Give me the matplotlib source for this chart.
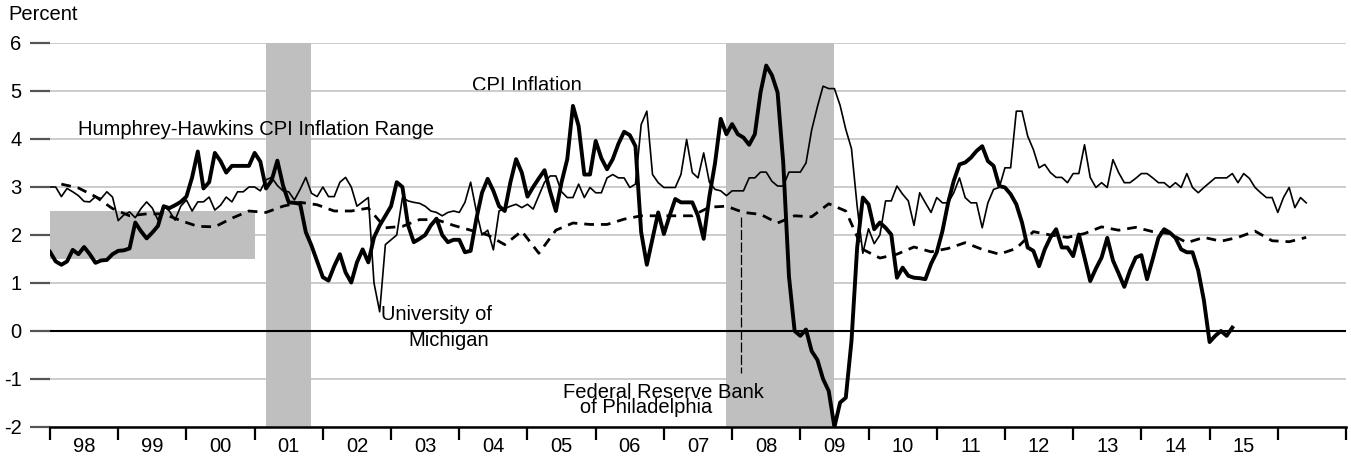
import numpy as np
import matplotlib

matplotlib.use("Agg")
import matplotlib.pyplot as plt
from matplotlib.ticker import FixedLocator, NullFormatter, FixedFormatter

plt.rcParams["font.family"] = ["Liberation Sans", "DejaVu Sans"]
plt.rcParams["axes.unicode_minus"] = False

# CPI inflation, monthly, Jan 1998 - May 2015
cpi = [
    1.65, 1.45, 1.38, 1.45, 1.69, 1.60, 1.75, 1.60, 1.42, 1.47, 1.48, 1.60,
    1.67, 1.68, 1.72, 2.26, 2.08, 1.93, 2.05, 2.19, 2.60, 2.56, 2.62, 2.69,
    2.80, 3.20, 3.74, 2.97, 3.10, 3.71, 3.54, 3.30, 3.44, 3.44, 3.44, 3.44,
    3.71, 3.53, 2.97, 3.14, 3.55, 3.03, 2.68, 2.67, 2.65, 2.06, 1.78, 1.45,
    1.12, 1.05, 1.35, 1.60, 1.22, 1.01, 1.43, 1.70, 1.43, 1.95, 2.20, 2.40,
    2.60, 3.10, 3.00, 2.20, 1.85, 1.92, 2.00, 2.20, 2.34, 2.00, 1.85, 1.90,
    1.90, 1.64, 1.67, 2.33, 2.88, 3.17, 2.92, 2.60, 2.50, 3.10, 3.58, 3.30,
    2.80, 3.00, 3.18, 3.35, 2.90, 2.50, 3.10, 3.58, 4.69, 4.27, 3.26, 3.26,
    3.96, 3.60, 3.37, 3.58, 3.90, 4.15, 4.08, 3.85, 2.06, 1.38, 1.92, 2.47,
    2.02, 2.40, 2.75, 2.68, 2.68, 2.68, 2.40, 1.92, 2.80, 3.50, 4.42, 4.10,
    4.31, 4.10, 4.03, 3.88, 4.10, 4.97, 5.53, 5.33, 4.97, 3.50, 1.14, 0.00,
    -0.10, 0.03, -0.42, -0.60, -1.00, -1.25, -2.00, -1.49, -1.39, -0.21, 1.74, 2.78,
    2.64, 2.12, 2.26, 2.15, 2.01, 1.11, 1.32, 1.15, 1.11, 1.10, 1.08, 1.40,
    1.64, 2.08, 2.67, 3.13, 3.47, 3.51, 3.61, 3.75, 3.85, 3.54, 3.44, 3.02,
    2.99, 2.85, 2.64, 2.26, 1.74, 1.67, 1.35, 1.70, 1.95, 2.12, 1.74, 1.74,
    1.56, 2.01, 1.53, 1.04, 1.30, 1.53, 1.94, 1.47, 1.20, 0.92, 1.26, 1.53,
    1.58, 1.08, 1.50, 1.94, 2.12, 2.05, 1.94, 1.70, 1.64, 1.64, 1.26, 0.64,
    -0.23, -0.10, 0.00, -0.10, 0.07,
]

# University of Michigan expectations, monthly, Jan 1998 - Jun 2016
michigan = [
    3.00, 3.00, 2.80, 2.97, 2.90, 2.82, 2.70, 2.69, 2.80, 2.76, 2.90, 2.79,
    2.30, 2.42, 2.48, 2.36, 2.55, 2.69, 2.56, 2.31, 2.60, 2.50, 2.31, 2.60,
    2.73, 2.50, 2.69, 2.69, 2.79, 2.52, 2.62, 2.79, 2.69, 2.90, 2.90, 3.00,
    3.00, 2.92, 3.15, 3.20, 3.03, 2.92, 2.90, 2.73, 2.95, 3.20, 2.87, 2.80,
    3.00, 2.80, 2.80, 3.10, 3.20, 3.00, 2.60, 2.69, 2.78, 1.00, 0.40, 1.80,
    1.90, 2.00, 2.78, 2.71, 2.68, 2.66, 2.60, 2.50, 2.47, 2.40, 2.47, 2.50,
    2.47, 2.68, 3.10, 2.50, 2.00, 2.10, 1.69, 2.50, 2.55, 2.60, 2.64, 2.57,
    2.64, 2.54, 2.82, 3.10, 3.23, 3.23, 2.90, 2.78, 2.78, 3.06, 2.78, 2.99,
    2.88, 2.88, 3.19, 3.26, 3.19, 3.19, 2.99, 3.06, 4.30, 4.58, 3.26, 3.09,
    2.99, 2.99, 2.99, 3.26, 3.99, 3.30, 3.19, 3.71, 3.10, 2.95, 2.92, 2.82,
    2.92, 2.92, 2.92, 3.19, 3.19, 3.31, 3.31, 3.12, 3.02, 3.02, 3.31, 3.31,
    3.31, 3.50, 4.19, 4.67, 5.10, 5.05, 5.05, 4.70, 4.20, 3.80, 2.60, 1.62,
    2.13, 1.82, 2.00, 2.71, 2.71, 3.02, 2.85, 2.71, 2.20, 2.88, 2.67, 2.47,
    2.78, 2.67, 2.67, 2.88, 3.19, 2.78, 2.67, 2.67, 2.15, 2.67, 2.95, 2.99,
    3.40, 3.40, 4.58, 4.58, 4.06, 3.78, 3.40, 3.47, 3.30, 3.20, 3.20, 3.09,
    3.28, 3.28, 3.88, 3.20, 2.99, 3.09, 2.99, 3.57, 3.30, 3.09, 3.09, 3.18,
    3.28, 3.28, 3.19, 3.09, 3.09, 2.99, 3.09, 2.99, 3.28, 2.99, 2.88, 2.99,
    3.09, 3.19, 3.19, 3.19, 3.28, 3.09, 3.28, 3.18, 2.99, 2.88, 2.78, 2.78,
    2.47, 2.78, 2.99, 2.57, 2.78, 2.67,
]

# Federal Reserve Bank of Philadelphia expectations, quarterly, Mar 1998 - Jun 2016
philly_month = list(range(2, 222, 3))
philly = [
    3.06, 2.98, 2.80, 2.55, 2.40, 2.44, 2.44, 2.30, 2.18, 2.17, 2.35, 2.50,
    2.47, 2.60, 2.68, 2.63, 2.50, 2.50, 2.56, 2.15, 2.18, 2.32, 2.32, 2.20,
    2.10, 2.00, 1.80, 2.08, 1.62, 2.10, 2.25, 2.22, 2.22, 2.33, 2.40, 2.40,
    2.40, 2.40, 2.58, 2.60, 2.47, 2.43, 2.25, 2.40, 2.38, 2.65, 2.50, 1.70,
    1.52, 1.60, 1.75, 1.65, 1.72, 1.84, 1.70, 1.60, 1.72, 2.07, 2.00, 1.95,
    2.03, 2.17, 2.10, 2.16, 2.07, 2.03, 1.84, 1.95, 1.87, 1.95, 2.08, 1.88,
    1.86, 1.95,
]

recessions = [(2001 + 2 / 12, 2001 + 10 / 12), (2007 + 11 / 12, 2009 + 6 / 12)]
hh_range = (1998.0, 2001.0, 1.5, 2.5)
year_labels = ["98", "99", "00", "01", "02", "03", "04", "05", "06",
               "07", "08", "09", "10", "11", "12", "13", "14", "15"]

t_cpi = 1998 + np.arange(len(cpi)) / 12
t_mich = 1998 + np.arange(len(michigan)) / 12
t_philly = 1998 + np.array(philly_month) / 12

fig = plt.figure(figsize=(13.51, 4.57), dpi=100)
ax = fig.add_axes([50 / 1351, 1 - 427 / 457, 1296 / 1351, 384 / 457])

fs = 14.5

# 网格和阴影
ax.set_ylim(-2, 6)
ax.set_xlim(1998, 2017)
ax.set_yticks(range(-2, 7))
ax.yaxis.grid(True, color="#c8c8c8", linewidth=1.3, zorder=0)
ax.set_axisbelow(True)

for a, b in recessions:
    ax.axvspan(a, b, color="#bfbfbf", lw=0, zorder=1)

x0, x1, y0, y1 = hh_range
ax.fill_between([x0, x1], y0, y1, color="#bfbfbf", lw=0, zorder=1)

ax.axhline(0, color="black", lw=1.5, zorder=2)

# 三条线
ax.plot(t_philly, philly, color="black", lw=2.0, ls=(0, (3.5, 2.5)), zorder=3)
ax.plot(t_mich, michigan, color="black", lw=1.2, zorder=4)
ax.plot(t_cpi, cpi, color="black", lw=2.8, zorder=5)

# Philadelphia 指示线
ax.plot([2008 + 1.5 / 12, 2008 + 1.5 / 12], [2.38, -0.88], color="black",
        lw=0.9, ls=(0, (8, 2)), zorder=3)

# 坐标轴
for s in ["top", "right", "left"]:
    ax.spines[s].set_visible(False)
ax.spines["bottom"].set_linewidth(1.8)

ax.tick_params(axis="y", length=14.4, width=1.6, color="#555555", pad=6,
               labelsize=fs)
ax.xaxis.set_major_locator(FixedLocator(np.arange(1998, 2018)))
ax.xaxis.set_major_formatter(NullFormatter())
ax.xaxis.set_minor_locator(FixedLocator(np.arange(1998, 2016) + 0.5))
ax.xaxis.set_minor_formatter(FixedFormatter(year_labels))
ax.tick_params(axis="x", which="major", length=9.5, width=1.6, color="black")
ax.tick_params(axis="x", which="minor", length=0, pad=7, labelsize=fs)

# 文字
fig.text(8 / 1351, 1 - 15 / 457, "Percent", fontsize=fs, va="center")
ax.text(1998 + 28 / 68.2, 4.2, "Humphrey-Hawkins CPI Inflation Range",
        fontsize=fs, va="center")
ax.text(1998 + 422 / 68.2, 5.0, "CPI Inflation", fontsize=fs, va="baseline",
        zorder=0.5)
ax.text(1998 + 331 / 68.2, 0.23, "University of", fontsize=fs, va="baseline")
ax.text(1998 + 358 / 68.2, -0.32, "Michigan", fontsize=fs, va="baseline")
ax.text(1998 + 513 / 68.2, -1.70, "Federal Reserve Bank\n   of Philadelphia",
        fontsize=fs, va="baseline", linespacing=0.68)

plt.savefig("out.png", dpi=100)
